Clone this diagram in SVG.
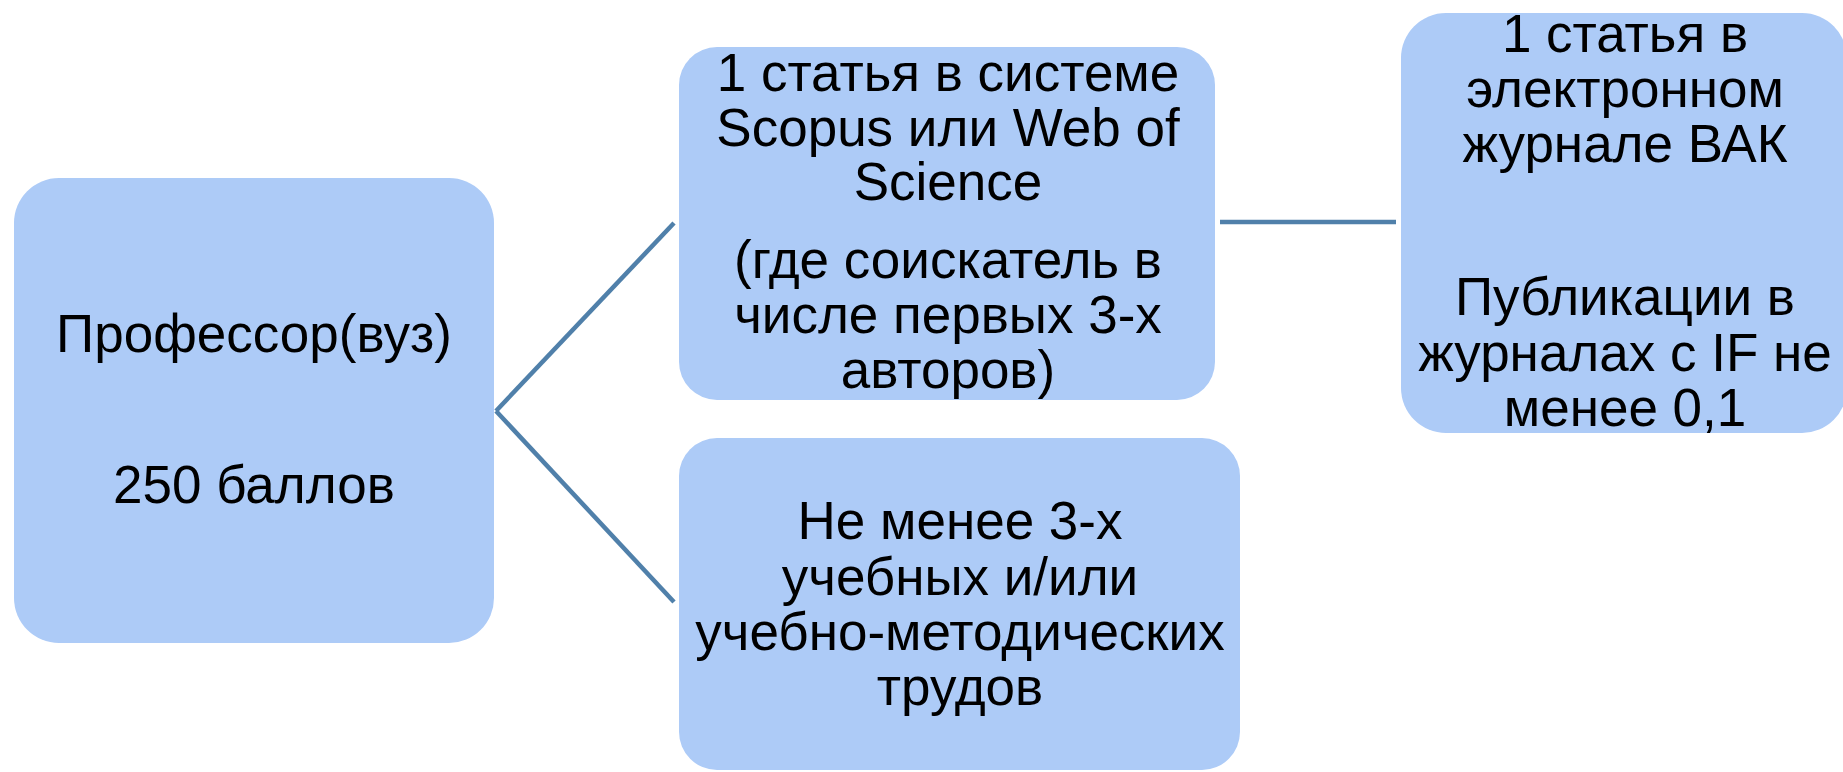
<svg xmlns="http://www.w3.org/2000/svg" width="1843" height="772" viewBox="0 0 1843 772">
<style>
.box{fill:#adcbf7;}
.t{font-family:"Liberation Sans",Arial,sans-serif;font-size:53px;fill:#000;text-anchor:middle;}
.c{stroke:#5080aa;stroke-width:4.5;fill:none;}
</style>
<rect width="1843" height="772" fill="#fff"/>
<g id="connectors">
<line class="c" x1="496" y1="411" x2="674" y2="223"/>
<line class="c" x1="496" y1="411" x2="674" y2="602"/>
<line class="c" x1="1220" y1="222" x2="1396" y2="222"/>
</g>
<g id="n1">
<rect class="box" x="14" y="178" width="480" height="465" rx="45"/>
<text class="t" x="254" y="352">Профессор(вуз)</text>
<text class="t" x="254" y="503">250 баллов</text>
</g>
<g id="n2">
<rect class="box" x="679" y="47" width="536" height="353" rx="38"/>
<text class="t" x="948" y="91">1 статья в системе</text>
<text class="t" x="948" y="146">Scopus или Web of</text>
<text class="t" x="948" y="200">Science</text>
<text class="t" x="948" y="278"> (где соискатель в</text>
<text class="t" x="948" y="333">числе первых 3-х</text>
<text class="t" x="948" y="388">авторов)</text>
</g>
<g id="n3">
<rect class="box" x="679" y="438" width="561" height="332" rx="38"/>
<text class="t" x="960" y="539">Не менее 3-х</text>
<text class="t" x="960" y="595">учебных и/или</text>
<text class="t" x="960" y="650">учебно-методических</text>
<text class="t" x="960" y="705">трудов</text>
</g>
<g id="n4">
<rect class="box" x="1401" y="13" width="446" height="420" rx="45"/>
<text class="t" x="1625" y="52">1 статья в</text>
<text class="t" x="1625" y="107">электронном</text>
<text class="t" x="1625" y="162">журнале ВАК</text>
<text class="t" x="1625" y="315">Публикации в</text>
<text class="t" x="1625" y="371">журналах с IF не</text>
<text class="t" x="1625" y="426">менее 0,1</text>
</g>
</svg>
